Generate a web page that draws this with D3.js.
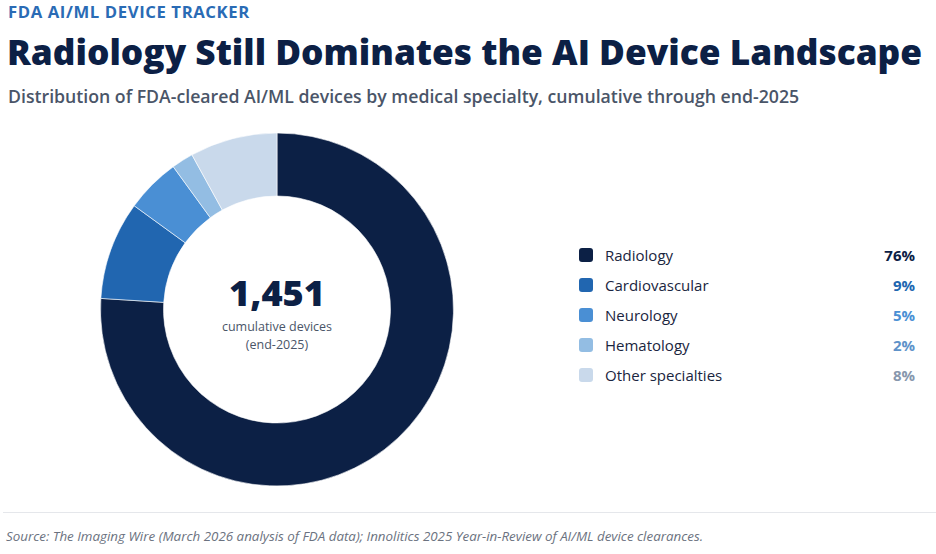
<!DOCTYPE html>
<html>
<head>
<meta charset="utf-8">
<script src="https://cdn.jsdelivr.net/npm/d3@7"></script>
<style>
  html, body { margin: 0; padding: 0; background: #ffffff; }
  svg { display: block; }
</style>
</head>
<body>
<svg id="chart" width="936" height="554"></svg>
<script>
const categories = ["Radiology", "Cardiovascular", "Neurology", "Hematology", "Other specialties"];
const shares = [76, 9, 5, 2, 8];
const sliceColors = ["#0c2045", "#2166b0", "#4a8fd4", "#93bde3", "#c9d9eb"];
const valueColors = ["#0c2045", "#2166b0", "#4a8fd4", "#5e92c9", "#8797ad"];
const totalDevices = 1451;

const kicker = "FDA AI/ML DEVICE TRACKER";
const title = "Radiology Still Dominates the AI Device Landscape";
const subtitle = "Distribution of FDA-cleared AI/ML devices by medical specialty, cumulative through end-2025";
const centerLines = ["cumulative devices", "(end-2025)"];
const source = "Source: The Imaging Wire (March 2026 analysis of FDA data); Innolitics 2025 Year-in-Review of AI/ML device clearances.";

const svg = d3.select("#chart");
const FONT = "'Open Sans', 'Noto Sans', sans-serif";

function fit(sel, target) {
  const n = sel.node();
  const len = n.getComputedTextLength();
  const fs = parseFloat(sel.attr("font-size"));
  sel.attr("font-size", (fs * target / len).toFixed(2));
}

// Header
const k = svg.append("text").attr("x", 8).attr("y", 18)
  .attr("font-family", FONT).attr("font-weight", 700).attr("font-size", 14)
  .attr("letter-spacing", 0.6).attr("fill", "#2a6bb5").text(kicker);
fit(k, 245);

const t = svg.append("text").attr("x", 7).attr("y", 65)
  .attr("font-family", FONT).attr("font-weight", 800).attr("font-size", 36)
  .attr("fill", "#0c2045").text(title);
fit(t, 915);

const s = svg.append("text").attr("x", 8).attr("y", 103)
  .attr("font-family", FONT).attr("font-weight", 600).attr("font-size", 17)
  .attr("fill", "#4a5568").text(subtitle);
fit(s, 792);

// Donut
const cx = 277, cy = 309.5, outerR = 176.5, innerR = 113.5;
const pie = d3.pie().sort(null).value(d => d.v);
const arc = d3.arc().innerRadius(innerR).outerRadius(outerR);
const data = categories.map((c, i) => ({ c, v: shares[i], i }));

const g = svg.append("g").attr("transform", `translate(${cx},${cy})`);
g.selectAll("path").data(pie(data)).join("path")
  .attr("d", arc)
  .attr("fill", d => sliceColors[d.data.i])
  .attr("stroke", "#ffffff").attr("stroke-width", 0.6);

const big = g.append("text").attr("x", 0).attr("y", -3.5).attr("text-anchor", "middle")
  .attr("font-family", FONT).attr("font-weight", 800).attr("font-size", 38)
  .attr("fill", "#0c2045").text(d3.format(",")(totalDevices));
fit(big, 96);

g.selectAll("text.sub").data(centerLines).join("text").attr("class", "sub")
  .attr("x", 0).attr("y", (d, i) => 21 + i * 18.5)
  .attr("text-anchor", "middle")
  .attr("font-family", FONT).attr("font-size", 12.5)
  .attr("fill", "#4a5568").text(d => d);

// Legend
const legendY = d3.scalePoint().domain(categories).range([255, 375]);
const lg = svg.append("g");
const rows = lg.selectAll("g").data(data).join("g")
  .attr("transform", d => `translate(0,${legendY(d.c)})`);
rows.append("rect").attr("x", 579).attr("y", -7).attr("width", 14).attr("height", 14)
  .attr("rx", 3).attr("fill", d => sliceColors[d.i]);
rows.append("text").attr("x", 605).attr("y", 5.5)
  .attr("font-family", FONT).attr("font-size", 15)
  .attr("fill", "#1a2540").text(d => d.c);
rows.append("text").attr("x", 915).attr("y", 5.5).attr("text-anchor", "end")
  .attr("font-family", FONT).attr("font-weight", 700).attr("font-size", 15)
  .attr("fill", d => valueColors[d.i]).text(d => d.v + "%");

// Footer
svg.append("line").attr("x1", 3).attr("x2", 936).attr("y1", 512.5).attr("y2", 512.5)
  .attr("stroke", "#e5e7eb").attr("stroke-width", 1);
const f = svg.append("text").attr("x", 6).attr("y", 541)
  .attr("font-family", FONT).attr("font-style", "italic").attr("font-size", 12.5)
  .attr("fill", "#6b7280").text(source);
fit(f, 697);
</script>
</body>
</html>
